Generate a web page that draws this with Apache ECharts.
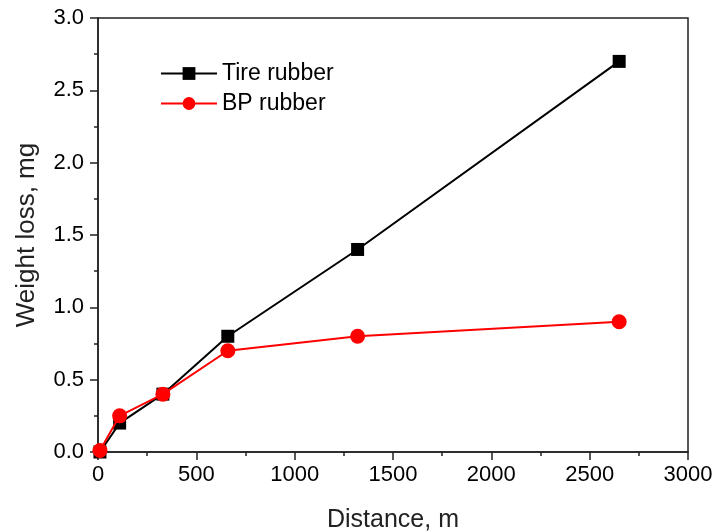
<!DOCTYPE html>
<html>
<head>
<meta charset="utf-8">
<script src="https://cdn.jsdelivr.net/npm/echarts@6/dist/echarts.min.js"></script>
<style>
  html, body { margin: 0; padding: 0; background: #fff; }
  #main { width: 715px; height: 531px; }
</style>
</head>
<body>
<div id="main"></div>
<script>
// data
var distance = [10, 110, 330, 660, 1320, 2650];
var tireLoss = [0.0, 0.2, 0.4, 0.8, 1.4, 2.7];
var bpLoss = [0.01, 0.25, 0.4, 0.7, 0.8, 0.9];
var seriesNames = ['Tire rubber', 'BP rubber'];

function pairs(xs, ys) {
	var out = [];
	for (var i = 0; i < xs.length; i++) {
		out.push([xs[i], ys[i]]);
	}
	return out;
}

var myChart = echarts.init(document.getElementById('main'));
var font = 'Liberation Sans, Arial, sans-serif';

myChart.setOption({
	animation: false,
	textStyle: { fontFamily: font },
	grid: {
		left: 98, top: 18, right: 27, bottom: 79,
		outerBoundsMode: 'none', containLabel: false,
		show: true, borderColor: '#222', borderWidth: 1.5, backgroundColor: 'transparent'
	},
	legend: {
		orient: 'vertical',
		left: 155, top: 57,
		itemWidth: 56, itemHeight: 16, itemGap: 7,
		textStyle: { fontSize: 23, color: '#000', fontFamily: font },
		data: seriesNames
	},
	xAxis: {
		type: 'value', min: 0, max: 3000, interval: 500,
		name: 'Distance, m', nameLocation: 'middle', nameGap: 56,
		nameTextStyle: { fontSize: 25, color: '#222', fontFamily: font },
		axisLine: { lineStyle: { color: '#222', width: 1.5 } },
		axisTick: { show: true, inside: false, length: 8, lineStyle: { color: '#222', width: 1.5 } },
		minorTick: { show: true, splitNumber: 2, length: 4, lineStyle: { color: '#222', width: 1.5 } },
		axisLabel: {
			fontSize: 22, color: '#000', margin: 12,
			formatter: function (v) { return String(v); }
		},
		splitLine: { show: false }
	},
	yAxis: {
		type: 'value', min: 0, max: 3, interval: 0.5,
		name: 'Weight loss, mg', nameLocation: 'middle', nameGap: 58,
		nameTextStyle: { fontSize: 26, color: '#222', fontFamily: font },
		axisLine: { show: true, lineStyle: { color: '#222', width: 1.5 } },
		axisTick: { show: true, inside: false, length: 8, lineStyle: { color: '#222', width: 1.5 } },
		minorTick: { show: true, splitNumber: 2, length: 4, lineStyle: { color: '#222', width: 1.5 } },
		axisLabel: {
			fontSize: 22, color: '#000', margin: 14,
			formatter: function (v) { return v.toFixed(1); }
		},
		splitLine: { show: false }
	},
	series: [{
		name: seriesNames[0],
		type: 'line',
		data: pairs(distance, tireLoss),
		symbol: 'rect', symbolSize: 13,
		itemStyle: { color: '#000' },
		lineStyle: { color: '#000', width: 2 },
		z: 2
	}, {
		name: seriesNames[1],
		type: 'line',
		data: pairs(distance, bpLoss),
		symbol: 'circle', symbolSize: 15,
		itemStyle: { color: '#ff0000' },
		lineStyle: { color: '#ff0000', width: 2 },
		z: 3
	}]
});
</script>
</body>
</html>
